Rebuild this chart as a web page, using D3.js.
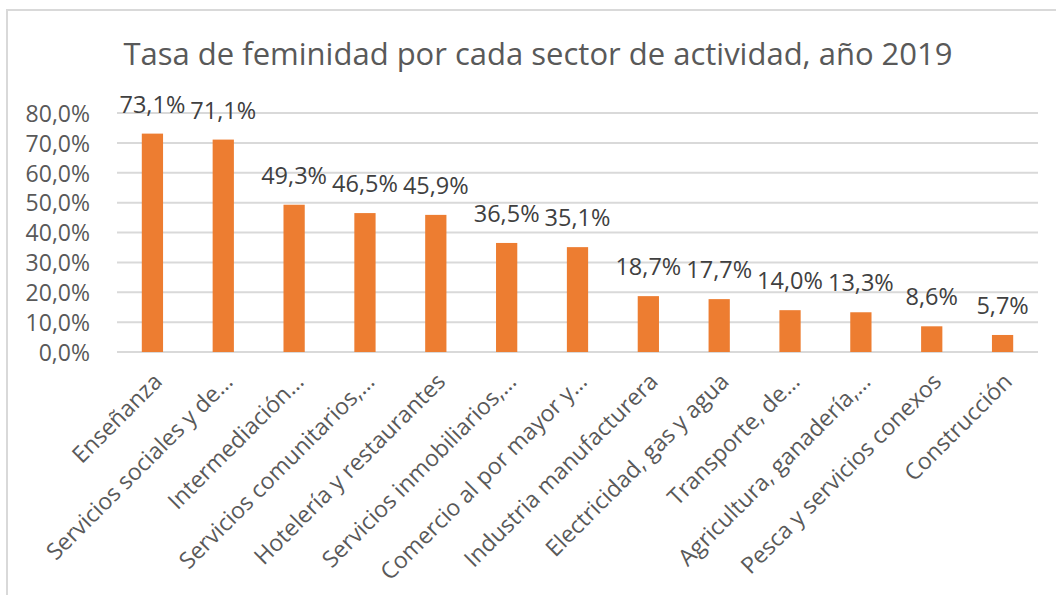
<!DOCTYPE html>
<html>
<head>
<meta charset="utf-8">
<script src="https://cdn.jsdelivr.net/npm/d3@7"></script>
<style>
  html, body { margin: 0; padding: 0; background: #fff; }
  svg { display: block; font-family: "Open Sans", sans-serif; }
</style>
</head>
<body>
<svg id="chart" width="1056" height="595"></svg>
<script>
const title = "Tasa de feminidad por cada sector de actividad, año 2019";
const categories = [
  "Enseñanza",
  "Servicios sociales y de…",
  "Intermediación…",
  "Servicios comunitarios,…",
  "Hotelería y restaurantes",
  "Servicios inmobiliarios,…",
  "Comercio al por mayor y…",
  "Industria manufacturera",
  "Electricidad, gas y agua",
  "Transporte, de…",
  "Agricultura, ganadería,…",
  "Pesca y servicios conexos",
  "Construcción"
];
const values = [73.1, 71.1, 49.3, 46.5, 45.9, 36.5, 35.1, 18.7, 17.7, 14.0, 13.3, 8.6, 5.7];
const yTicks = [0, 10, 20, 30, 40, 50, 60, 70, 80];

const svg = d3.select("#chart");
const W = 1056, H = 595;
const plot = { left: 117, right: 1038, top: 113, bottom: 352 };

// chart frame (only left and top edges visible in reference)
svg.append("rect")
  .attr("x", 7).attr("y", 10)
  .attr("width", W + 20).attr("height", H + 20)
  .attr("fill", "#fff").attr("stroke", "#d9d9d9").attr("stroke-width", 2);

const x = d3.scaleBand().domain(categories).range([plot.left, plot.right]).paddingInner(0.7).paddingOuter(0.35);
const y = d3.scaleLinear().domain([0, 80]).range([plot.bottom, plot.top]);

const fmt = v => d3.format(".1f")(v).replace(".", ",") + "%";

// gridlines
svg.append("g").selectAll("line").data(yTicks).join("line")
  .attr("x1", plot.left).attr("x2", plot.right)
  .attr("y1", d => y(d)).attr("y2", d => y(d))
  .attr("stroke", "#d9d9d9").attr("stroke-width", 2);

// y axis labels
const yAxis = d3.axisLeft(y).tickValues(yTicks).tickFormat(fmt).tickSize(0).tickPadding(0);
const yg = svg.append("g").attr("transform", `translate(${plot.left - 27},0)`).call(yAxis);
yg.select(".domain").remove();
yg.selectAll("text").attr("font-size", 23).attr("fill", "#595959")
  .attr("font-family", "Open Sans, sans-serif").attr("dy", "0.36em");

// bars
svg.append("g").selectAll("rect").data(values).join("rect")
  .attr("x", (d, i) => x(categories[i]))
  .attr("width", x.bandwidth())
  .attr("y", d => y(d))
  .attr("height", d => y(0) - y(d))
  .attr("fill", "#ED7D31");

// value labels
svg.append("g").selectAll("text").data(values).join("text")
  .attr("x", (d, i) => x(categories[i]) + x.bandwidth() / 2)
  .attr("y", d => y(d) - 21)
  .attr("text-anchor", "middle")
  .attr("font-size", 23.5)
  .attr("fill", "#404040")
  .text(d => fmt(d));

// x axis labels
const xAxis = d3.axisBottom(x).tickSize(0).tickPadding(0);
const xg = svg.append("g").attr("transform", `translate(0,${plot.bottom})`).call(xAxis);
xg.select(".domain").remove();
xg.selectAll("text")
  .attr("font-size", 23)
  .attr("font-family", "Open Sans, sans-serif")
  .attr("fill", "#595959")
  .attr("text-anchor", "end")
  .attr("dy", null).attr("y", 0)
  .attr("transform", "translate(11,31) rotate(-45)");

// title
svg.append("text")
  .attr("x", 538).attr("y", 65)
  .attr("text-anchor", "middle")
  .attr("font-size", 31)
  .attr("fill", "#595959")
  .text(title);
</script>
</body>
</html>
